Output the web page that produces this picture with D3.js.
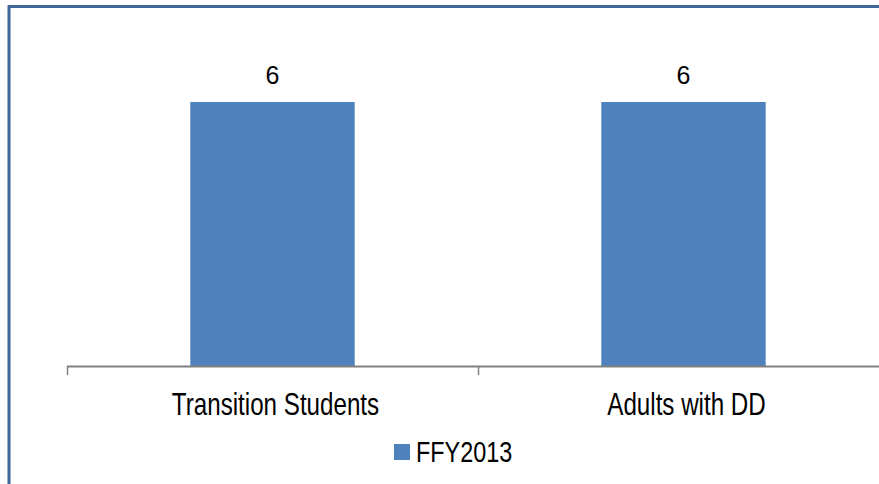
<!DOCTYPE html>
<html>
<head>
<meta charset="utf-8">
<script src="https://cdn.jsdelivr.net/npm/d3@7"></script>
<style>
  body { margin: 0; background: #fff; }
  svg { display: block; }
</style>
</head>
<body>
<div id="chart"></div>
<script>
// chart data
var categories = ['Transition Students', 'Adults with DD']
var values = [6, 6]
var seriesName = 'FFY2013'

var width = 879
var height = 484
var barColor = '#4f81bd'
var sans = '"Liberation Sans", Arial, sans-serif'
var narrowScale = 0.78 // fake Arial Narrow by squeezing Liberation Sans

var svg = d3.select('#chart')
    .append('svg')
    .attr('width', width)
    .attr('height', height)

// outer frame (right and bottom edges fall outside the view)
svg.append('rect')
    .attr('x', 9)
    .attr('y', 6.5)
    .attr('width', 900)
    .attr('height', 500)
    .attr('fill', 'none')
    .attr('stroke', '#41679b')
    .attr('stroke-width', 3)

// scales
var x = d3.scaleBand()
    .domain(categories)
    .range([67, 889])
    .paddingInner(0.6)
    .paddingOuter(0.3)

var y = d3.scaleLinear()
    .domain([0, 6])
    .range([366.5, 102])

// bars
svg.selectAll('.bar')
    .data(categories)
    .enter()
    .append('rect')
    .attr('class', 'bar')
    .attr('x', function (d) { return x(d) })
    .attr('y', function (d, i) { return y(values[i]) })
    .attr('width', x.bandwidth())
    .attr('height', function (d, i) { return y(0) - y(values[i]) })
    .attr('fill', barColor)

// value labels
svg.selectAll('.vlabel')
    .data(categories)
    .enter()
    .append('text')
    .attr('class', 'vlabel')
    .attr('x', function (d) { return x(d) + x.bandwidth() / 2 })
    .attr('y', function (d, i) { return y(values[i]) - 18.5 })
    .attr('text-anchor', 'middle')
    .style('font-family', sans)
    .style('font-size', '25px')
    .style('fill', '#000')
    .text(function (d, i) { return values[i] })

// x axis: baseline with ticks at band boundaries
var axis = svg.append('g')
axis.append('line')
    .attr('x1', 67).attr('x2', width + 10)
    .attr('y1', 366.5).attr('y2', 366.5)
    .attr('stroke', '#808080')
    .attr('stroke-width', 2)

var step = x.step()
var tickXs = categories.map(function (d) { return Math.round(x(d) - step * x.paddingInner() / 2) })
axis.selectAll('.tick')
    .data(tickXs)
    .enter()
    .append('line')
    .attr('x1', function (d) { return d + 0.5 })
    .attr('x2', function (d) { return d + 0.5 })
    .attr('y1', 366)
    .attr('y2', 375)
    .attr('stroke', '#808080')
    .attr('stroke-width', 1.5)

axis.selectAll('.xlabel')
    .data(categories)
    .enter()
    .append('text')
    .attr('transform', function (d) {
        return 'translate(' + (x(d) + x.bandwidth() / 2 + 3) + ',415) scale(' + narrowScale + ',1)'
    })
    .attr('text-anchor', 'middle')
    .style('font-family', sans)
    .style('font-size', '31px')
    .style('fill', '#000')
    .text(function (d) { return d })

// legend
var legend = svg.append('g')
legend.append('rect')
    .attr('x', 394)
    .attr('y', 444)
    .attr('width', 16)
    .attr('height', 16)
    .attr('fill', barColor)
legend.append('text')
    .attr('transform', 'translate(416,461.5) scale(' + narrowScale + ',1)')
    .style('font-family', sans)
    .style('font-size', '30px')
    .style('fill', '#000')
    .text(seriesName)
</script>
</body>
</html>
